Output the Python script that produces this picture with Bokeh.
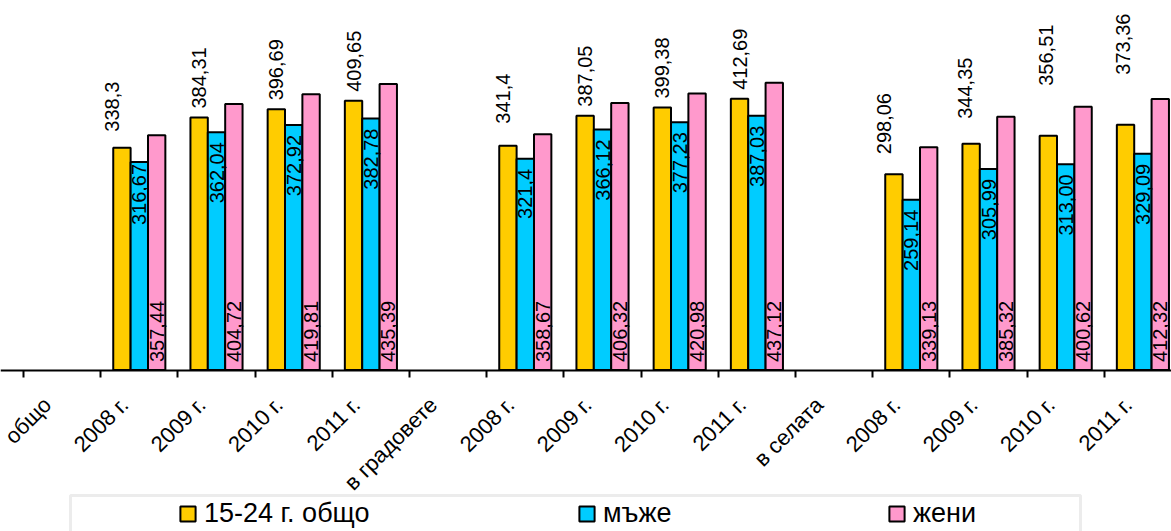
from math import pi

from bokeh.plotting import figure
from bokeh.models import (ColumnDataSource, Range1d, FixedTicker, Legend,
                          LegendItem, BoxAnnotation)
from bokeh.transform import dodge
from bokeh.core.properties import value
from bokeh.embed import file_html
from bokeh.resources import INLINE

# ---------------- data ----------------
categories = ["общо", "2008 г.", "2009 г.", "2010 г.", "2011 г.",
              "в градовете", "2008 г.", "2009 г.", "2010 г.", "2011 г.",
              "в селата", "2008 г.", "2009 г.", "2010 г.", "2011 г."]

series_names = ["15-24 г. общо", "мъже", "жени"]

total_15_24 = [None, "338,3", "384,31", "396,69", "409,65",
               None, "341,4", "387,05", "399,38", "412,69",
               None, "298,06", "344,35", "356,51", "373,36"]
men = [None, "316,67", "362,04", "372,92", "382,78",
       None, "321,4", "366,12", "377,23", "387,03",
       None, "259,14", "305,99", "313,00", "329,09"]
women = [None, "357,44", "404,72", "419,81", "435,39",
         None, "358,67", "406,32", "420,98", "437,12",
         None, "339,13", "385,32", "400,62", "412,32"]

# ---------------- style / layout ----------------
colors = ["#FFCC00", "#00CCFF", "#FF99CC"]
FONT = "Liberation Sans"
# manual nudges (screen px) of the yellow labels, as placed in the original
yellow_lift = [0, 7, 0, 0, 0, 0, 13, 0, 0, 0, 0, 11, 16, 41, 41]
yellow_shift = [0, -10, 0, 0, 0, 0, -5, 0, 0, 0, 0, -10, -6, -2, -3]
men_drop = [0, -8, 0, 0, 0, 0, 0, 0, 0, 0, 0, 0, 0, 0, 0]

W, H = 1171, 531
plot_left_px = 23        # where the category axis starts
axis_px = 369.5          # vertical position of the value zero line
cat_px = 77.2            # width of one category
px_per_unit = 0.657      # vertical scale

X0 = -0.5 - plot_left_px / cat_px


def px_x(px):
    return X0 + px / cat_px


def px_y(py):
    return (axis_px - py) / px_per_unit


p = figure(width=W, height=H, output_backend="svg", toolbar_location=None,
           x_range=Range1d(px_x(0), px_x(W)),
           y_range=Range1d(px_y(H), px_y(0)),
           x_axis_location="above", y_axis_location=None, title=None,
           min_border=0)
p.outline_line_color = None
p.xgrid.visible = False
p.ygrid.visible = False


def num(s):
    return float(s.replace(",", "."))


idx = [i for i, v in enumerate(total_15_24) if v is not None]
src = ColumnDataSource(dict(
    x=idx,
    y0=[num(total_15_24[i]) for i in idx],
    y1=[num(men[i]) for i in idx],
    y2=[num(women[i]) for i in idx],
    t0=[total_15_24[i] for i in idx],
    t1=[men[i] for i in idx],
    t2=[women[i] for i in idx],
    zero=[0] * len(idx),
    lift0=[-9 - yellow_lift[i] for i in idx],
    shift0=[yellow_shift[i] for i in idx],
    drop1=[10 + men_drop[i] for i in idx],
))

bw = 0.225
offsets = [-bw, 0.0, bw]
bars = []
for k, (col, off) in enumerate(zip(["y0", "y1", "y2"], offsets)):
    r = p.vbar(x=dodge("x", off, range=p.x_range), top=col, bottom=0,
               width=bw, source=src, fill_color=colors[k],
               line_color="black", line_width=2)
    bars.append(r)

common = dict(source=src, angle=pi / 2, text_font=value(FONT),
              text_font_size="20px", text_color="black",
              text_baseline="middle")
p.text(x=dodge("x", offsets[0], range=p.x_range), y="y0", text="t0",
       text_align="left", y_offset="lift0", x_offset="shift0", **common)
p.text(x=dodge("x", offsets[1], range=p.x_range), y="y1", text="t1",
       text_align="right", y_offset="drop1", **common)
p.text(x=dodge("x", offsets[2], range=p.x_range), y="zero", text="t2",
       text_align="left", y_offset=-8, **common)

# ---------------- category axis (line + boundary ticks at zero) ----------------
ax = p.xaxis[0]
ax.fixed_location = 0
ax.ticker = FixedTicker(ticks=[],
                        minor_ticks=[i - 0.5 for i in range(len(categories) + 1)])
ax.major_tick_out = 0
ax.major_tick_in = 0
ax.minor_tick_out = 0
ax.minor_tick_in = 7
ax.minor_tick_line_width = 2
ax.minor_tick_line_color = "black"
ax.axis_line_width = 2
ax.axis_line_color = "black"
ax.major_label_standoff = 0

# category labels, rotated 45 degrees below the axis
cat_src = ColumnDataSource(dict(x=[i - 0.19 for i in range(len(categories))],
                                y=[0] * len(categories), text=categories))
p.text(x="x", y="y", text="text", source=cat_src, angle=pi / 4,
       text_align="right", text_baseline="middle", y_offset=31,
       text_font=value(FONT), text_font_size="22px", text_color="black")

# ---------------- legend ----------------
p.add_layout(BoxAnnotation(left=px_x(70), right=px_x(1080),
                           top=px_y(495), bottom=px_y(570),
                           fill_alpha=0, line_color="#c0c0c0", line_width=3))
leg_x = [178, 577, 887]
for k, name in enumerate(series_names):
    lg = Legend(items=[LegendItem(label=value(name), renderers=[bars[k]])],
                location=(leg_x[k], 2), orientation="horizontal",
                padding=0, margin=0, spacing=0,
                border_line_color=None, background_fill_alpha=0,
                glyph_width=19, glyph_height=19, label_standoff=7,
                label_text_font=FONT, label_text_font_size="27px",
                label_text_color="black")
    p.add_layout(lg, "center")

open("out.html", "w").write(file_html(p, INLINE))
